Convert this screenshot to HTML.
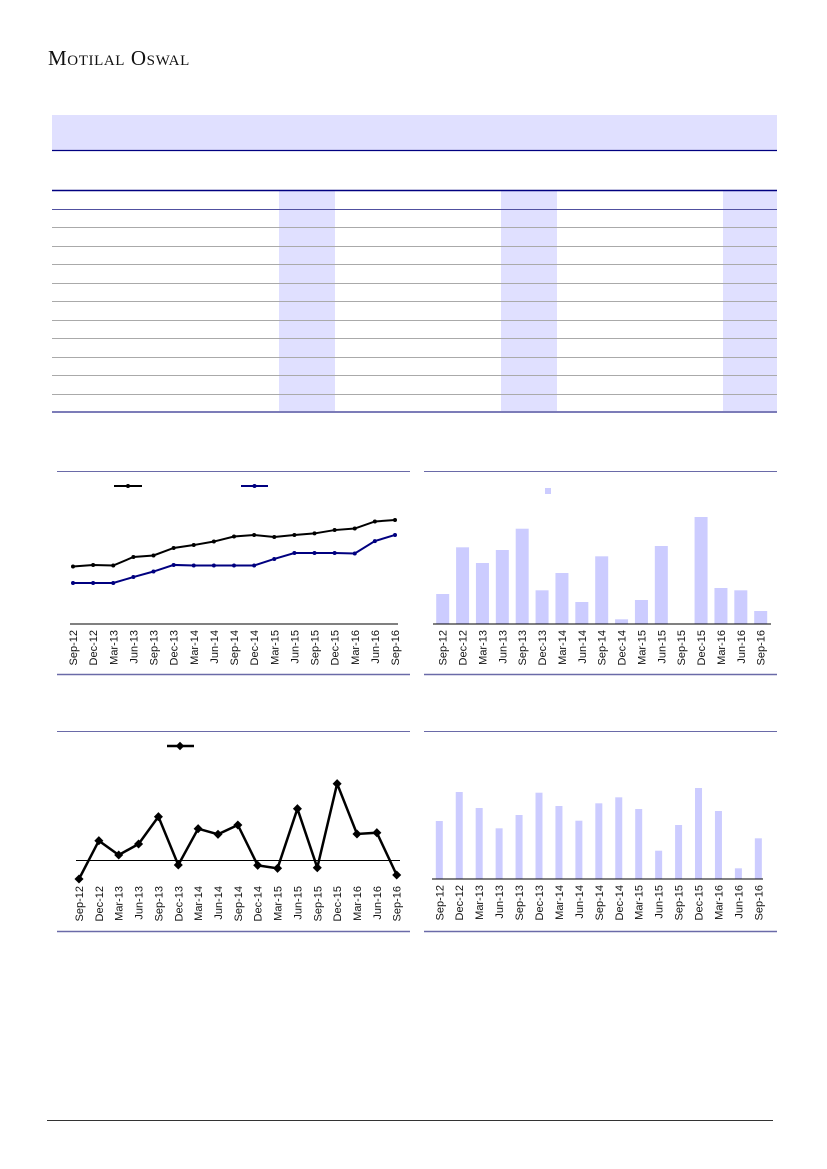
<!DOCTYPE html>
<html><head><meta charset="utf-8"><style>
body{margin:0;background:#fff;}
#page{position:relative;width:827px;height:1169px;overflow:hidden;font-family:"Liberation Sans",sans-serif;}
</style></head><body>
<div id="page">
<div style="position:absolute;left:48px;top:46px;font-family:'Liberation Serif',serif;font-size:21px;letter-spacing:0.6px;color:#111;font-variant:small-caps;">Motilal Oswal</div>
<svg width="827" height="1169" style="position:absolute;left:0;top:0" id="svg">
<rect x="52" y="115" width="725" height="35" fill="#e0e0ff"/>
<line x1="52" x2="777" y1="150.5" y2="150.5" stroke="#000080" stroke-width="1.2"/>
<g id="table"></g>
<g id="c1"></g>
<g id="c2"></g>
<g id="c3"></g>
<g id="c4"></g>
<line x1="47" x2="773" y1="1120.5" y2="1120.5" stroke="#333" stroke-width="1"/>
</svg>
</div>
<script>
const NS="http://www.w3.org/2000/svg";
const categories=["Sep-12","Dec-12","Mar-13","Jun-13","Sep-13","Dec-13","Mar-14","Jun-14","Sep-14","Dec-14","Mar-15","Jun-15","Sep-15","Dec-15","Mar-16","Jun-16","Sep-16"];
const seriesA=[37.6,38.6,38.2,43.8,44.8,49.7,51.6,53.9,57.2,58.2,56.9,58.2,59.2,61.4,62.4,67.0,68.0];
const seriesB=[26.8,26.8,26.8,30.7,34.3,38.6,38.2,38.2,38.2,38.2,42.5,46.4,46.4,46.4,46.1,54.2,58.2];
const barsTop=[30,76.7,61,74,95.3,33.7,51,22,67.7,4.7,24,78,0,107,36,33.7,13];
const growth=[-18.7,19.6,5.3,16.3,43.6,-4.7,31.6,26,35.3,-5,-8,51.6,-7.4,76.6,26.3,27.6,-14.7];
const barsBottom=[58,87,71,50.7,64,86.3,73,58.3,75.7,81.7,70,28.3,54,91,68,10.7,40.7];

function el(p,t,a){const e=document.createElementNS(NS,t);for(const k in a)e.setAttribute(k,a[k]);p.appendChild(e);return e;}

const T=document.getElementById('table');
[[279,56],[501,56],[723,54]].forEach(c=>{const r=el(T,'rect',{x:c[0],y:191,width:c[1],height:220,fill:'#e0e0ff'});

});
const rowYs=[227,246,264,283,301,320,338,357,375,394];
rowYs.forEach(y=>{const l=el(T,'line',{x1:52,x2:777,y1:y+0.5,y2:y+0.5,stroke:'#aaa','stroke-width':1});

});
[[190,'#000080',1.5],[209,'#5050a0',1],[411.5,'#5050a0',1.5]].forEach(s=>{const l=el(T,'line',{x1:52,x2:777,y1:s[0]+0.5,y2:s[0]+0.5,stroke:s[1],'stroke-width':s[2]});

});

function frame(g,x1,x2,top,bot){
 const a=el(g,'line',{x1:x1,x2:x2,y1:top+0.5,y2:top+0.5,stroke:'#6a6aa8','stroke-width':1});
 
 
 const b=el(g,'line',{x1:x1,x2:x2,y1:bot+0.5,y2:bot+0.5,stroke:'#6a6aa8','stroke-width':1.5});
 
 
}
function labels(g,xf,base){
 categories.forEach((c,i)=>{const t=el(g,'text',{x:0,y:0,transform:`translate(${xf(i)+4},${base+6}) rotate(-90)`,'text-anchor':'end','font-size':'11','fill':'#111'});t.textContent=c;
 
 });
}
function axisLine(g,x1,x2,y,w,name){const l=el(g,'line',{x1:x1,x2:x2,y1:y,y2:y,stroke:'#000','stroke-width':w});
 
 }

{const g=document.getElementById('c1');frame(g,57,410,471,674);
 const x=i=>73+i*(395-73)/16, y=v=>624-v*1.53;
 axisLine(g,70,398,624,1,'x-axis');
 labels(g,x,624);
 [[seriesA,'#000'],[seriesB,'#000080']].forEach((s,si)=>{
  const p=el(g,'polyline',{points:s[0].map((v,i)=>x(i)+','+y(v)).join(' '),fill:'none',stroke:s[1],'stroke-width':2});
  
  
  s[0].forEach((v,i)=>{const c=el(g,'circle',{cx:x(i),cy:y(v),r:2,fill:s[1]});
   
   });
 });
 [[114,142,'#000'],[241,268,'#000080']].forEach((L,k)=>{const l=el(g,'line',{x1:L[0],x2:L[1],y1:486,y2:486,stroke:L[2],'stroke-width':2});
  
  
  el(g,'circle',{cx:(L[0]+L[1])/2,cy:486,r:2,fill:L[2]});});
}
{const g=document.getElementById('c2');frame(g,424,777,471,674);
 const x=i=>442.7+i*19.875;
 barsTop.forEach((v,i)=>{const r=el(g,'rect',{x:x(i)-6.5,y:624-v,width:13,height:v,fill:'#ccccff'});
  
  });
 axisLine(g,433,771,624,1,'x-axis');
 labels(g,x,624);
 const lg=el(g,'rect',{x:545,y:488,width:6,height:6,fill:'#ccccff'});
 
 
}
{const g=document.getElementById('c3');frame(g,57,410,731,931);
 const x=i=>79+i*(396.7-79)/16, y=v=>860.3-v;
 axisLine(g,76,400,860.5,1,'zero-line');
 const p=el(g,'polyline',{points:growth.map((v,i)=>x(i)+','+y(v)).join(' '),fill:'none',stroke:'#000','stroke-width':2.5});
 
 
 growth.forEach((v,i)=>{const d=el(g,'rect',{x:x(i)-3.2,y:y(v)-3.2,width:6.4,height:6.4,fill:'#000',transform:`rotate(45 ${x(i)} ${y(v)})`});
  
  });
 labels(g,x,880);
 const l=el(g,'line',{x1:167,x2:194,y1:746,y2:746,stroke:'#000','stroke-width':2.5});
 
 
 el(g,'rect',{x:177,y:743,width:6,height:6,fill:'#000',transform:'rotate(45 180 746)'});
}
{const g=document.getElementById('c4');frame(g,424,777,731,931);
 const x=i=>439.3+i*19.94;
 barsBottom.forEach((v,i)=>{const r=el(g,'rect',{x:x(i)-3.5,y:879-v,width:7,height:v,fill:'#ccccff'});
  
  });
 axisLine(g,432,763,879,1,'x-axis');
 labels(g,x,879);
}
</script>
</body></html>
